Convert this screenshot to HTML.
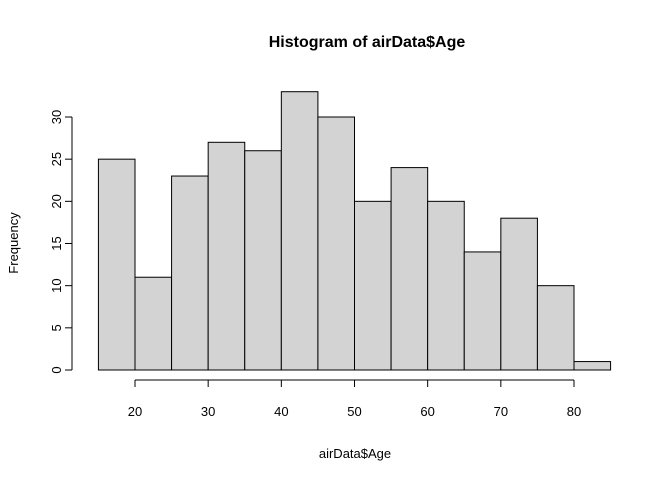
<!DOCTYPE html>
<html><head><meta charset="utf-8"><style>
body{margin:0;background:#fff}
svg text{font-family:"Liberation Sans",Arial,sans-serif;fill:#000}
</style></head><body>
<svg id="chart" width="672" height="480" xmlns="http://www.w3.org/2000/svg">
<text x="367" y="47" text-anchor="middle" font-size="16" font-weight="bold">Histogram of airData$Age</text>
<text x="355" y="458" text-anchor="middle" font-size="13">airData$Age</text>
<text transform="translate(18,243) rotate(-90)" text-anchor="middle" font-size="13">Frequency</text>
<g id="bars"></g><g id="xaxis"></g><g id="yaxis"></g>
</svg>
<script>
const binStarts=[15,20,25,30,35,40,45,50,55,60,65,70,75,80];
const counts=[25,11,23,27,26,33,30,20,24,20,14,18,10,1];
const binWidth=5;
const xTicks=[20,30,40,50,60,70,80];
const yTicks=[0,5,10,15,20,25,30];
const NS="http://www.w3.org/2000/svg";
const xs=v=>135+(v-20)*(439/60);
const ys=v=>370-v*(253/30);
function mk(tag,attrs,parent){const e=document.createElementNS(NS,tag);for(const k in attrs)e.setAttribute(k,attrs[k]);parent.appendChild(e);return e;}
const bars=document.getElementById('bars');
binStarts.forEach((b,i)=>{
 const r=mk('rect',{x:xs(b),y:ys(counts[i]),width:xs(b+binWidth)-xs(b),height:ys(0)-ys(counts[i]),fill:'#d3d3d3',stroke:'#000','stroke-width':1},bars);
 
 
});
const xa=document.getElementById('xaxis');
const xl=mk('line',{x1:xs(xTicks[0]),x2:xs(xTicks[xTicks.length-1]),y1:380,y2:380,stroke:'#000'},xa);


xTicks.forEach(t=>{
 mk('line',{x1:xs(t),x2:xs(t),y1:380,y2:387,stroke:'#000'},xa);
 const tx=mk('text',{x:xs(t),y:416,'text-anchor':'middle','font-size':13},xa);tx.textContent=t;
 
 
});
const ya=document.getElementById('yaxis');
const yl=mk('line',{x1:72,x2:72,y1:ys(yTicks[0]),y2:ys(yTicks[yTicks.length-1]),stroke:'#000'},ya);


yTicks.forEach(t=>{
 mk('line',{x1:65,x2:72,y1:ys(t),y2:ys(t),stroke:'#000'},ya);
 const tx=mk('text',{transform:`translate(61,${ys(t)}) rotate(-90)`,'text-anchor':'middle','font-size':13},ya);tx.textContent=t;
 
 
});
</script>
</body></html>
